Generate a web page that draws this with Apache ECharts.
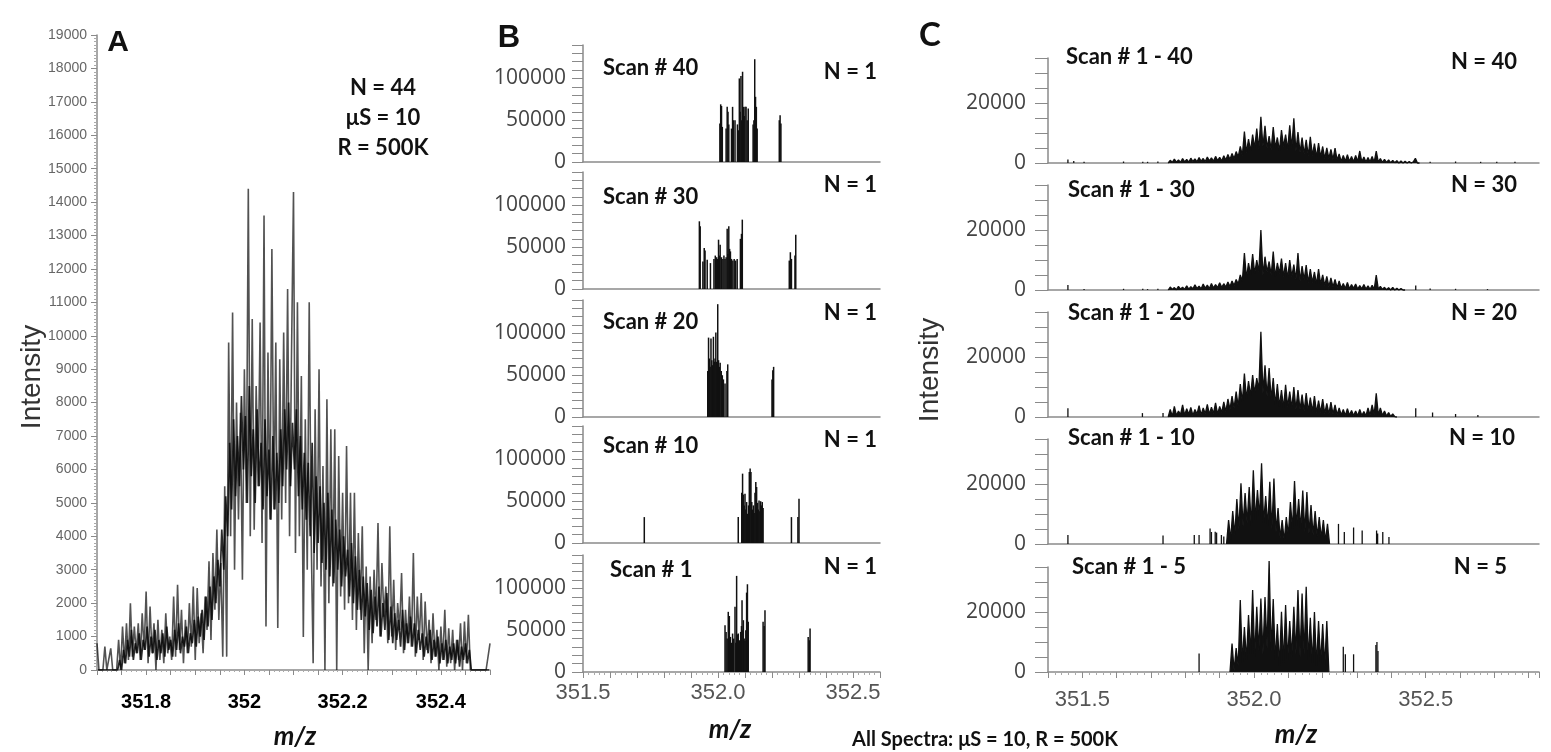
<!DOCTYPE html>
<html><head><meta charset="utf-8">
<script src="https://cdn.jsdelivr.net/npm/echarts@6/dist/echarts.min.js"></script>
<style>html,body{margin:0;padding:0;background:#fff}#c{width:1551px;height:752px}</style>
</head><body><div id="c"></div>
<script>
// ---------------- DATA ----------------
// Panel A: profile spectrum, N = 44 (uniform m/z sampling)
const aMzStart = 351.700, aMzStep = 0.004;
const aIntensity = [
 800,0,0,0,700,0,0,650,0,0,
 0,900,0,1300,200,1400,300,2000,400,1300,
 500,1400,300,1700,600,2350,200,1900,500,1400,
 0,1500,300,1200,200,1700,500,1000,300,2200,
 400,2550,600,1800,200,1500,500,2000,700,2500,
 300,2450,800,1700,500,2200,1200,3250,900,3500,
 1800,4200,1500,3200,400,5500,400,9800,4000,10700,
 3000,8000,4500,7700,2700,9000,5000,14400,4000,10500,
 4200,8500,5500,10400,3800,13600,1300,9500,4500,12600,
 4800,9800,1260,9300,4500,10100,5000,11400,4000,9500,
 14300,3500,11000,4000,8800,990,7500,3000,11000,4000,
 200,7800,3000,9000,2500,6100,0,8100,2000,7200,
 2500,7200,0,6400,2200,5300,1800,6700,2000,5300,
 1500,5300,1200,4100,1800,4300,500,3100,0,2800,
 800,3000,1500,4400,1000,3200,1600,2500,800,4300,
 1000,2700,600,2000,1200,2900,500,1800,800,2200,
 700,3500,400,2200,900,2300,300,2050,600,1500,
 200,1700,400,1200,0,1300,300,1800,100,1250,
 200,1200,0,900,300,1400,0,1450,200,1650,
 0,0,0,0,0,0,0,0,0,0,800
];
// Panel A: dense core of the same profile (sampled between the points above)
const aCoreStart = 351.702, aCoreStep = 0.004;
const aCore = [
 0,0,0,0,0,0,0,0,0,0,
 0,300,0,600,200,900,400,1200,300,800,
 500,1100,300,900,600,1300,400,1000,500,1200,
 300,900,500,1100,400,1300,600,900,400,1200,
 600,1400,500,1000,700,1300,500,1100,800,1500,
 700,1600,1000,1800,900,2200,1300,2500,1500,2800,
 2000,3300,2500,4200,3000,5200,4000,6800,4800,7500,
 5200,7000,5500,8200,6000,7600,5000,8500,5800,7200,
 5000,7800,5500,6800,4800,7500,5200,6600,4500,7000,
 4800,6500,5000,7200,5500,7800,6000,8000,5500,7400,
 6000,7800,5200,7000,4800,6500,4500,6200,4000,6800,
 3500,5800,3800,5500,3200,5000,3000,5300,2800,4800,
 2600,4500,3000,4200,2500,4000,2800,3600,2200,3800,
 2000,3400,1800,3000,1500,2800,1600,2600,1200,2400,
 1100,2200,1300,2500,1000,2000,1200,2300,900,1900,
 800,1700,900,1500,700,1800,600,1400,800,1600,
 700,1400,500,1200,600,1100,400,1000,500,1200,
 300,900,400,1000,200,800,300,900,200,700,
 300,800,200,900,100,700,300,800,200,600,
 0,0,0,0,0,0,0,0,0,0
];
const aXLabels = [351.8, 352, 352.2, 352.4];

// Panel B: single scans, [m/z, intensity]
const bScan40 = [[352.007,46000],[352.010,69000],[352.013,67000],[352.016,42000],[352.030,40000],[352.034,66000],[352.037,60000],[352.040,45000],[352.050,40000],[352.054,66000],[352.057,50000],[352.063,50000],[352.072,45000],[352.076,38000],[352.079,100000],[352.082,60000],[352.085,103000],[352.088,50000],[352.091,108000],[352.094,66000],[352.097,55000],[352.100,66000],[352.104,66000],[352.108,50000],[352.112,64000],[352.130,45000],[352.133,50000],[352.136,123000],[352.139,78000],[352.142,66000],[352.145,40000],[352.227,50000],[352.230,56000],[352.233,46000]];
const bScan30 = [[351.931,81000],[351.934,75000],[351.944,33000],[351.949,49000],[351.952,46000],[351.960,35000],[351.972,31000],[351.985,36000],[351.990,40000],[351.995,38000],[351.999,36000],[352.002,59000],[352.005,40000],[352.008,53000],[352.013,38000],[352.018,36000],[352.022,40000],[352.026,36000],[352.030,38000],[352.034,72000],[352.037,42000],[352.040,75000],[352.043,48000],[352.046,45000],[352.050,36000],[352.055,34000],[352.060,36000],[352.065,34000],[352.071,36000],[352.083,60000],[352.087,66000],[352.090,83000],[352.264,34000],[352.268,44000],[352.272,36000],[352.285,40000],[352.288,65000]];
const bScan20 = [[351.962,55000],[351.965,95000],[351.968,70000],[351.971,60000],[351.974,94000],[351.977,68000],[351.980,62000],[351.983,96000],[351.986,66000],[351.989,70000],[351.992,101000],[351.995,66000],[351.999,135000],[352.002,68000],[352.005,60000],[352.008,65000],[352.012,55000],[352.016,50000],[352.020,45000],[352.026,40000],[352.033,55000],[352.036,63000],[352.200,45000],[352.203,56000],[352.206,60000]];
const bScan10 = [[351.727,31000],[352.075,31000],[352.088,60000],[352.091,83000],[352.094,58000],[352.097,45000],[352.100,59000],[352.103,40000],[352.106,49000],[352.110,35000],[352.113,45000],[352.116,85000],[352.119,89000],[352.122,85000],[352.125,49000],[352.128,40000],[352.131,45000],[352.134,36000],[352.137,60000],[352.140,73000],[352.143,67000],[352.146,48000],[352.149,40000],[352.152,51000],[352.155,38000],[352.158,50000],[352.161,45000],[352.164,49000],[352.167,42000],[352.272,31000],[352.296,31000],[352.300,53000]];
const bScan1 = [[352.026,56000],[352.030,48000],[352.034,40000],[352.038,72000],[352.042,67000],[352.046,42000],[352.050,35000],[352.054,46000],[352.058,40000],[352.063,78000],[352.066,35000],[352.069,115000],[352.072,45000],[352.075,46000],[352.079,38000],[352.084,48000],[352.087,55000],[352.089,86000],[352.092,50000],[352.094,62000],[352.097,40000],[352.100,37000],[352.103,50000],[352.106,95000],[352.109,105000],[352.112,60000],[352.167,60000],[352.171,55000],[352.174,74000],[352.334,42000],[352.338,38000],[352.341,52000]];
const bLabels = ['Scan # 40','Scan # 30','Scan # 20','Scan # 10','Scan # 1'];
const bNLabels = ['N = 1','N = 1','N = 1','N = 1','N = 1'];
const bcXLabels = [351.5, 352.0, 352.5];
const bYLabels = [0, 50000, 100000];

// Panel C: summed spectra (uniform m/z sampling for the dense part) + isolated sticks
const cStep = 0.006;
const cN40Start = 351.750;
const cN40 = [0,900,200,1300,300,1000,200,1500,400,1200,
 300,1600,500,1400,400,1800,600,1500,500,2000,
 700,1700,600,2200,800,1900,700,2400,1000,2800,
 1200,3200,1500,3800,2000,5500,2500,10500,3500,8000,
 4000,9500,5000,11500,4500,15400,5500,12400,5000,9000,
 4500,12000,5000,8500,4000,11000,5500,9500,4500,12600,
 5000,14900,4000,10300,3500,8500,3000,7700,2500,8700,
 2500,6500,2000,6600,2000,5500,1500,5000,1500,4500,
 1200,5000,1000,3000,500,2500,600,2800,500,2200,
 400,2500,500,4000,400,2000,300,1800,400,2200,
 300,4000,300,1500,200,1200,200,1000,100,900,
 100,800,0,700,0,600,0,500,0,400,
 1600,0,0];
const cN40Sticks = [[351.458,1200],[351.475,700],[351.505,400],[351.620,500],[351.676,400],[351.690,400],[351.720,500],[352.513,400],[352.587,500],[352.660,400],[352.707,400],[352.760,400]];
const cN30Start = 351.750;
const cN30 = [0,1000,200,800,100,1200,300,900,200,1400,
 300,1100,400,1700,500,1300,400,2000,600,1600,
 500,2200,700,1800,800,2400,900,2100,1000,2700,
 1200,3000,1500,3500,2000,5000,3000,12300,4000,9000,
 5000,12000,5500,10000,6000,20000,5000,11100,6000,9500,
 5000,12800,4500,9000,5500,10500,4500,9000,4000,10000,
 4500,8500,3500,12300,3000,8000,3500,8300,2500,7000,
 2500,6000,2000,7000,2000,5000,1500,4500,1200,4000,
 1000,3500,800,3000,600,2200,500,2500,400,1800,
 600,2000,300,1500,400,1800,300,1400,200,1600,
 300,5000,300,1200,200,900,100,800,0,900,
 0,600,0,500,0,0];
const cN30Sticks = [[351.458,1700],[351.505,300],[351.620,400],[351.676,400],[351.690,300],[351.720,400],[352.471,1500],[352.513,500],[352.587,400],[352.680,300]];
const cN20Start = 351.750;
const cN20 = [0,2500,300,3500,500,2000,800,4000,600,2800,
 900,3200,500,2500,1000,3800,700,3000,1100,4200,
 900,3300,1200,4700,1000,3500,1500,5000,1800,6000,
 2500,7000,3000,8500,3500,11000,5000,14500,6000,12000,
 7000,14000,8000,13000,9000,28400,8000,17200,7000,16300,
 6000,13000,4000,11000,3500,9000,3000,10700,3500,8500,
 3000,10000,2500,9000,2500,7500,2000,8000,2000,6500,
 1800,7000,1500,5500,1500,6000,1200,4500,1000,5000,
 1000,4000,800,3000,700,2500,500,2800,600,2200,
 500,2000,400,2500,500,1800,400,3000,600,4000,
 800,7900,700,3000,500,2000,300,1500,200,1000,
 100,0];
const cN20Sticks = [[351.458,2900],[351.675,1300],[351.735,1300],[352.471,2900],[352.520,1500],[352.587,1000],[352.652,700]];
const cN10Start = 351.920;
const cN10 = [0,8000,1500,11000,3000,15000,5000,20200,6000,17000,
 7000,19000,6000,24600,8000,18000,9000,26900,7000,16000,
 6000,20700,5000,21800,4000,12000,2000,8000,1000,9000,
 3000,14000,5000,21000,6000,15000,5000,17800,4000,17300,
 3500,13000,3000,11000,2500,9000,2000,8000,1000,6700,
 0];
const cN10Sticks = [[351.458,3000],[351.735,2800],[351.826,3000],[351.840,3000],[351.872,5200],[351.876,4000],[351.887,4100],[351.891,3800],[351.905,3000],[351.912,2500],[352.246,6700],[352.263,4000],[352.290,5500],[352.315,4500],[352.357,4500],[352.360,3500],[352.375,4000],[352.393,2300]];
const cN5Start = 351.930;
const cN5 = [0,9500,500,8000,2000,24000,3000,15000,4000,19000,
 6000,27300,5000,21700,7000,24500,6000,25000,8000,37000,
 7000,24300,4000,16000,2000,20100,3000,22300,4000,17000,
 5000,21700,6000,27300,5000,26200,6000,28400,4000,18100,
 3000,20000,2000,17000,3000,16000,2000,17000,0];
const cN5Sticks = [[351.840,6200],[352.260,8400],[352.266,5900],[352.290,5900],[352.355,9000],[352.358,10000],[352.361,7000]];
const cLabels = ['Scan # 1 - 40','Scan # 1 - 30','Scan # 1 - 20','Scan # 1 - 10','Scan # 1 - 5'];
const cNLabels = ['N = 40','N = 30','N = 20','N = 10','N = 5'];
const cYLabels = [0, 20000];

// ---------------- BUILD ----------------
function profile(start, step, vals){ return vals.map((v,i)=>[+(start+i*step).toFixed(4), v]); }
function isIn(v, arr){ return arr.some(a=>Math.abs(a-v)<1e-6); }

const grids=[], xAxes=[], yAxes=[], series=[], texts=[];
const AX = '#8a8a8a';

// Panel A
grids.push({left:97, top:35, width:393, height:635});
xAxes.push({type:'value', gridIndex:0, min:351.7, max:352.5, interval:0.05,
  axisLine:{lineStyle:{color:AX,width:1.5}}, splitLine:{show:false},
  axisTick:{length:5,lineStyle:{color:AX}},
  minorTick:{show:true,splitNumber:5,length:2,lineStyle:{color:'#aaa'}},
  axisLabel:{margin:22,color:'#000',fontSize:20,fontWeight:'bold',fontFamily:'Liberation Sans, Arial',
    formatter:v=>isIn(v,aXLabels)?String(Math.round(v*10)/10):''}});
yAxes.push({type:'value', gridIndex:0, min:0, max:19000, interval:1000,
  axisLine:{show:true,lineStyle:{color:AX,width:1.5}}, splitLine:{show:false},
  axisTick:{length:6,lineStyle:{color:AX}},
  minorTick:{show:true,splitNumber:10,length:3,lineStyle:{color:'#aaa'}},
  axisLabel:{margin:10,color:'#666',fontSize:14,fontFamily:'Liberation Sans Narrow, Liberation Sans, Arial',
    formatter:v=>String(v)}});
series.push({type:'line', xAxisIndex:0, yAxisIndex:0, data:profile(aMzStart,aMzStep,aIntensity),
  showSymbol:false, symbol:'none', animation:false,
  lineStyle:{color:'rgba(15,15,15,0.72)', width:1.6}});
series.push({type:'line', xAxisIndex:0, yAxisIndex:0, data:profile(aCoreStart,aCoreStep,aCore),
  showSymbol:false, symbol:'none', animation:false,
  lineStyle:{color:'rgba(5,5,5,0.85)', width:1.7}});

// Panel B
const bData=[bScan40,bScan30,bScan20,bScan10,bScan1];
const bBase=[162,289,417,543,672];
const bTextY=[68,197,322,446,570], bTextX=[603,603,603,603,610], bNY=[72,185,313,440,567];
bData.forEach((d,k)=>{
  const gi=grids.length, last=(k===4);
  grids.push({left:583, top:bBase[k]-117, width:297, height:117});
  xAxes.push({type:'value', gridIndex:gi, min:351.5, max:352.6, interval:0.1,
    axisLine:{lineStyle:{color:AX,width:1.5}}, splitLine:{show:false},
    axisTick:{show:last,length:6,lineStyle:{color:AX}},
    minorTick:{show:last,splitNumber:5,length:3,lineStyle:{color:'#aaa'}},
    axisLabel:{show:last,margin:10,color:'#555',fontSize:22,fontFamily:'Liberation Sans, Arial',
      formatter:v=>isIn(v,bcXLabels)?v.toFixed(1):''}});
  yAxes.push({type:'value', gridIndex:gi, min:0, max:140000, interval:10000,
    axisLine:{show:true,lineStyle:{color:AX,width:1.5}}, splitLine:{show:false},
    axisTick:{length:11,lineStyle:{color:AX}},
    axisLabel:{margin:17,color:'#444',fontSize:21,fontFamily:'Open Sans, Liberation Sans',
      formatter:v=>isIn(v,bYLabels)?String(v):''}});
  series.push({type:'bar', xAxisIndex:gi, yAxisIndex:gi, data:d, barWidth:1.5,
    itemStyle:{color:'#111'}, animation:false});
  texts.push({t:bLabels[k], x:bTextX[k], y:bTextY[k], font:'bold 22px Lato', align:'left'});
  texts.push({t:bNLabels[k], x:877, y:bNY[k], font:'bold 22px Lato', align:'right'});
});

// Panel C
const cProf=[[cN40Start,cN40],[cN30Start,cN30],[cN20Start,cN20],[cN10Start,cN10],[cN5Start,cN5]];
const cSt=[cN40Sticks,cN30Sticks,cN20Sticks,cN10Sticks,cN5Sticks];
const cBase=[163,290,417,544,672];
const cTextY=[57,190,313,438,567], cTextX=[1066,1068,1068,1068,1072];
const cNY=[62,185,313,438,567], cNX=[1517,1517,1517,1515,1507];
cProf.forEach((p,k)=>{
  const gi=grids.length, last=(k===4);
  grids.push({left:1048, top:cBase[k]-105, width:491, height:105});
  xAxes.push({type:'value', gridIndex:gi, min:351.4, max:352.83, interval:0.1,
    axisLine:{lineStyle:{color:AX,width:1.5}}, splitLine:{show:false},
    axisTick:{show:last,length:6,lineStyle:{color:AX}},
    minorTick:{show:last,splitNumber:5,length:3,lineStyle:{color:'#aaa'}},
    axisLabel:{show:last,margin:17,color:'#555',fontSize:22,fontFamily:'Liberation Sans, Arial',
      showMaxLabel:false,
      formatter:v=>isIn(v,bcXLabels)?v.toFixed(1):''}});
  yAxes.push({type:'value', gridIndex:gi, min:0, max:35000, interval:5000,
    axisLine:{show:true,lineStyle:{color:AX,width:1.5}}, splitLine:{show:false},
    axisTick:{length:13,lineStyle:{color:AX}},
    axisLabel:{margin:22,color:'#444',fontSize:21,fontFamily:'Open Sans, Liberation Sans',
      formatter:v=>isIn(v,cYLabels)?String(v):''}});
  series.push({type:'line', xAxisIndex:gi, yAxisIndex:gi, data:profile(p[0],cStep,p[1]),
    showSymbol:false, symbol:'none', animation:false, clip:false,
    lineStyle:{color:'#111', width:1.3}, areaStyle:{color:'#111', opacity:1}});
  series.push({type:'bar', xAxisIndex:gi, yAxisIndex:gi, data:cSt[k], barWidth:1.3,
    itemStyle:{color:'#111'}, animation:false});
  texts.push({t:cLabels[k], x:cTextX[k], y:cTextY[k], font:'bold 22px Lato', align:'left'});
  texts.push({t:cNLabels[k], x:cNX[k], y:cNY[k], font:'bold 22px Lato', align:'right'});
});

// other annotations
texts.push({t:'A', x:118, y:43, font:'bold 30px Liberation Sans', align:'center'});
texts.push({t:'N = 44', x:383, y:88, font:'bold 22px Lato', align:'center'});
texts.push({t:'\u03bcS = 10', x:383, y:118, font:'bold 22px Lato', align:'center'});
texts.push({t:'R = 500K', x:383, y:148, font:'bold 22px Lato', align:'center'});
texts.push({t:'Intensity', x:32, y:377, font:'28px Liberation Sans', align:'center', rot:true, fill:'#333'});
texts.push({t:'m/z', x:295, y:737, font:'italic bold 26px Lato', align:'center'});
texts.push({t:'B', x:509, y:38, font:'bold 31px Liberation Sans', align:'center'});
texts.push({t:'m/z', x:730, y:730, font:'italic bold 26px Lato', align:'center'});
texts.push({t:'C', x:930, y:35, font:'bold 33px Lato', align:'center'});
texts.push({t:'Intensity', x:930, y:370, font:'28px Liberation Sans', align:'center', rot:true, fill:'#333'});
texts.push({t:'m/z', x:1296, y:735, font:'italic bold 26px Lato', align:'center'});
texts.push({t:'All Spectra: \u03bcS = 10, R = 500K', x:985, y:740, font:'bold 20px Lato', align:'center'});

const graphic = texts.map(o=>({type:'text', x:o.x, y:o.y, rotation:o.rot?Math.PI/2:0, z:100, silent:true,
  style:{text:o.t, font:o.font, fill:o.fill||'#111', align:o.align, verticalAlign:'middle'}}));

const chart = echarts.init(document.getElementById('c'));
chart.setOption({backgroundColor:'#fff', animation:false,
  grid:grids, xAxis:xAxes, yAxis:yAxes, series:series, graphic:{elements:graphic}});
</script></body></html>
